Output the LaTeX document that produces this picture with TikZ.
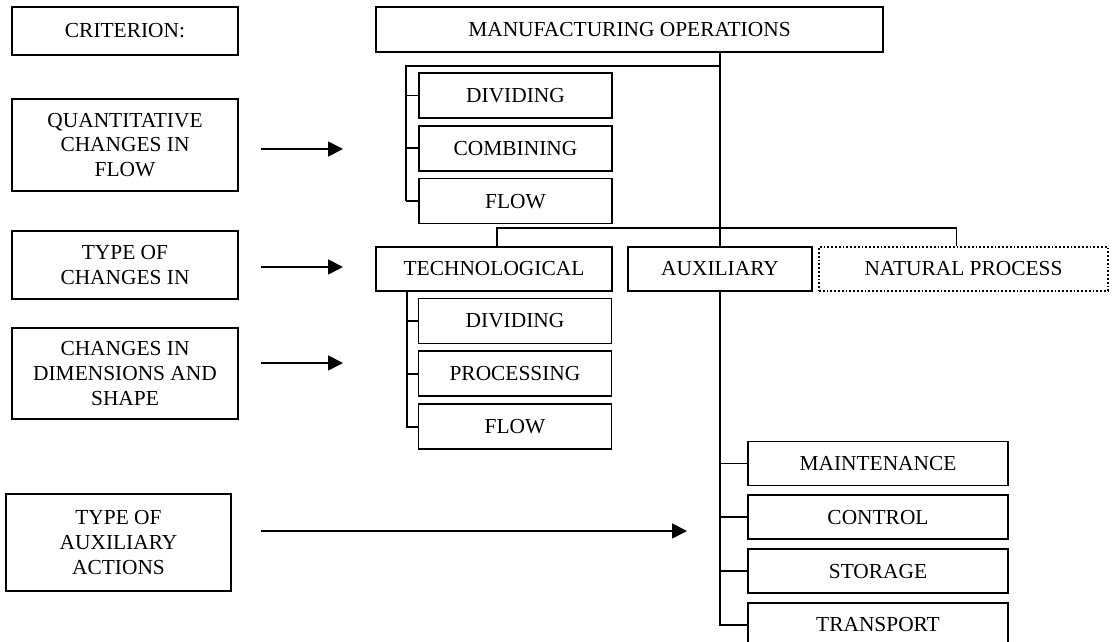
\documentclass[tikz,border=0pt]{standalone}
\usepackage{fontspec}
\setmainfont{Liberation Serif}
\usetikzlibrary{arrows.meta,positioning,calc}

\begin{document}
\begin{tikzpicture}[x=0.5pt, y=-0.5pt, line width=0.9pt, node distance=3pt,
    font=\fontsize{10.7}{12.4}\selectfont,
    box/.style={draw, align=center, inner sep=0pt},
    critbox/.style={box, minimum width=113pt},
    subbox/.style={box, minimum width=96.5pt, minimum height=22.5pt},
    auxbox/.style={box, minimum width=130pt, minimum height=22pt},
    >={Triangle[length=7.5pt,width=7.5pt]}]
    \useasboundingbox (0,0) rectangle (1115,642);

    % criteria column
    \node[critbox, minimum height=24pt]                      (crit)   at (125,31)     {CRITERION:};
    \node[critbox, minimum height=46pt]                      (quant)  at (125,145)    {QUANTITATIVE\\CHANGES IN\\FLOW};
    \node[critbox, minimum height=34pt]                      (typech) at (125,265)    {TYPE OF\\CHANGES IN};
    \node[critbox, minimum height=45.5pt]                    (dims)   at (125,373.5)  {CHANGES IN\\DIMENSIONS AND\\SHAPE};
    \node[critbox, minimum width=112.5pt, minimum height=48.5pt] (auxact) at (118.5,542.5) {TYPE OF\\AUXILIARY\\ACTIONS};

    % operations tree
    \node[box, minimum width=253.5pt, minimum height=22.5pt] (manuf)  at (629.5,29.5) {MANUFACTURING OPERATIONS};
    \node[subbox]                                            (div1)   at (515.5,95.5) {DIVIDING};
    \node[subbox]                                            (comb)   [below=of div1]  {COMBINING};
    \node[subbox]                                            (flow1)  [below=of comb]  {FLOW};

    \node[box, minimum width=118pt, minimum height=22pt]     (tech)   at (494,269)    {TECHNOLOGICAL};
    \node[box, minimum width=92pt, minimum height=22pt]      (aux)    at (720,269)    {AUXILIARY};
    \node[box, densely dotted, minimum width=144.5pt, minimum height=22pt] (nat) at (963.5,269) {NATURAL PROCESS};

    \node[subbox]                                            (div2)   at (515,321)    {DIVIDING};
    \node[subbox]                                            (proc)   [below=of div2]  {PROCESSING};
    \node[subbox]                                            (flow2)  [below=of proc]  {FLOW};

    \node[auxbox]                                            (maint)  at (878,463.5)  {MAINTENANCE};
    \node[auxbox]                                            (ctrl)   [below=4pt of maint] {CONTROL};
    \node[auxbox]                                            (stor)   [below=4pt of ctrl]  {STORAGE};
    \node[auxbox]                                            (trans)  [below=4pt of stor]  {TRANSPORT};

    \coordinate (split) at (720,66);
    \coordinate (bus)   at (720,228);
    \coordinate (a1s) at (261,149);  \coordinate (a1e) at (343,149);
    \coordinate (a2s) at (261,267);  \coordinate (a2e) at (343,267);
    \coordinate (a3s) at (261,363);  \coordinate (a3e) at (343,363);
    \coordinate (a4s) at (261,531);  \coordinate (a4e) at (687,531);

    % connectors
    \draw (manuf.south -| aux.north) -- (aux.north);
    \draw (split) -| ([xshift=-6pt]flow1.west);
    \foreach \n in {div1,comb,flow1} \draw ([xshift=-6pt]\n.west) -- (\n.west);
    \draw ([xshift=1.5pt]tech.north) |- (bus) -| ([xshift=-3.5pt]nat.north);
    \draw ([xshift=-5.5pt]div2.west |- tech.south) |- (flow2.west);
    \foreach \n in {div2,proc} \draw ([xshift=-5.5pt]\n.west) -- (\n.west);
    \draw (aux.south) |- (trans.west);
    \foreach \n in {maint,ctrl,stor} \draw (aux.south |- \n.west) -- (\n.west);

    % criterion arrows
    \draw[->] (a1s) -- (a1e);
    \draw[->] (a2s) -- (a2e);
    \draw[->] (a3s) -- (a3e);
    \draw[->] (a4s) -- (a4e);
\end{tikzpicture}
\end{document}
